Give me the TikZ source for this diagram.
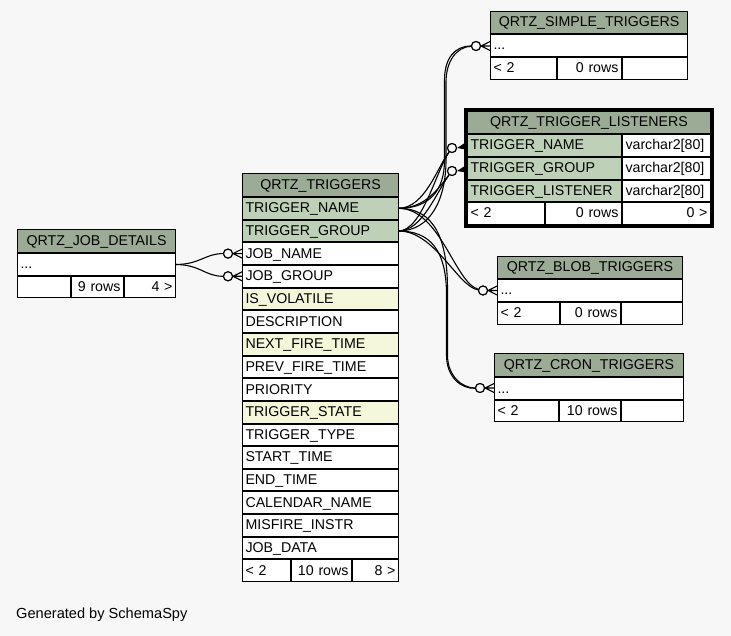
\documentclass[tikz,border=0pt]{standalone}
\usepackage{fontspec}
\setmainfont{Liberation Sans}
\usetikzlibrary{calc}
\definecolor{bgc}{HTML}{F7F7F7}
\definecolor{hdr}{HTML}{9BAB96}
\definecolor{pkc}{HTML}{BED1B8}
\definecolor{idx}{HTML}{F4F7DA}
\tikzset{
  cellbox/.style={draw=black, line width=1pt, rectangle, inner xsep=3pt, inner ysep=0pt, outer sep=0pt,
    text height=10.5pt, text depth=1.5pt, font=\fontsize{14.2}{16}\selectfont},
  hd/.style={cellbox, fill=hdr, align=center},
  pk/.style={cellbox, fill=pkc, align=left},
  ix/.style={cellbox, fill=idx, align=left},
  pl/.style={cellbox, fill=white, align=left},
  ftl/.style={cellbox, fill=white, align=left},
  ftr/.style={cellbox, fill=white, align=right},
  rel/.style={draw=black, line width=1.1pt},
  opt/.style={circle, draw=black, fill=bgc, line width=1.1pt, minimum size=9pt, inner sep=0pt},
}
\newcommand\tcell[7]{%
  \pgfmathsetmacro\cw{#4-#2-1}\pgfmathsetmacro\ch{#5-#3-1}\pgfmathsetmacro\tw{#4-#2-7}%
  \node[#6, anchor=north west, minimum width=\cw pt, minimum height=\ch pt, text width=\tw pt] (#1) at (#2+0.5,#3+0.5) {#7};}
\newcommand\crow[2]{%
  \draw[rel] (#1.east) -- ++(#2,-4.5) (#1.east) -- ++(#2,0) (#1.east) -- ++(#2,4.5);}
\begin{document}
\begin{tikzpicture}[x=1pt,y=-1pt]
\useasboundingbox[fill=bgc] (0,0) rectangle (731,636);

% ---- circles (positions) ----
\node[opt] (jnC) at (228,253.6) {};
\node[opt] (jgC) at (228,276.3) {};
\node[opt] (smC) at (476,46) {};
\node[opt] (lc1) at (452,148) {};
\node[opt] (lc2) at (452,171) {};
\node[opt] (bC) at (483,290.5) {};
\node[opt] (cC) at (480,388) {};

% ---- QRTZ_TRIGGERS ----
\tcell{th}{242}{173}{399}{197}{hd}{QRTZ\_TRIGGERS}
\foreach \t/\s [count=\i] in {TRIGGER\_NAME/pk, TRIGGER\_GROUP/pk, JOB\_NAME/pl, JOB\_GROUP/pl,
  IS\_VOLATILE/ix, DESCRIPTION/pl, NEXT\_FIRE\_TIME/ix, PREV\_FIRE\_TIME/pl, PRIORITY/pl,
  TRIGGER\_STATE/ix, TRIGGER\_TYPE/pl, START\_TIME/pl, END\_TIME/pl, CALENDAR\_NAME/pl,
  MISFIRE\_INSTR/pl, JOB\_DATA/pl}{
  \pgfmathsetmacro\ya{197+22.65*(\i-1)}\pgfmathsetmacro\yb{197+22.65*\i}
  \tcell{t\i}{242}{\ya}{399}{\yb}{\s}{\t}
}
\tcell{tf1}{242}{559.4}{291}{582}{ftl}{< 2}
\tcell{tf2}{291}{559.4}{352}{582}{ftr}{10 rows}
\tcell{tf3}{352}{559.4}{399}{582}{ftr}{8 >}

% ---- QRTZ_JOB_DETAILS ----
\tcell{jh}{17}{229}{176}{253}{hd}{QRTZ\_JOB\_DETAILS}
\tcell{jd1}{17}{253}{176}{276}{pl}{...}
\tcell{jf1}{17}{276}{71}{298}{ftl}{}
\tcell{jf2}{71}{276}{124}{298}{ftr}{9 rows}
\tcell{jf3}{124}{276}{176}{298}{ftr}{4 >}

% ---- QRTZ_SIMPLE_TRIGGERS ----
\tcell{sh}{490}{11}{688}{34}{hd}{QRTZ\_SIMPLE\_TRIGGERS}
\tcell{sm1}{490}{34}{688}{57}{pl}{...}
\tcell{sf1}{490}{57}{557}{80}{ftl}{< 2}
\tcell{sf2}{557}{57}{622}{80}{ftr}{0 rows}
\tcell{sf3}{622}{57}{688}{80}{ftr}{}

% ---- QRTZ_TRIGGER_LISTENERS ----
\tcell{lh}{467}{111}{711}{134}{hd}{QRTZ\_TRIGGER\_LISTENERS}
\tcell{l1}{467}{134}{622}{157}{pk}{TRIGGER\_NAME}
\tcell{l1t}{622}{134}{711}{157}{pl}{varchar2[80]}
\tcell{l2}{467}{157}{622}{180}{pk}{TRIGGER\_GROUP}
\tcell{l2t}{622}{157}{711}{180}{pl}{varchar2[80]}
\tcell{l3}{467}{180}{622}{202}{pk}{TRIGGER\_LISTENER}
\tcell{l3t}{622}{180}{711}{202}{pl}{varchar2[80]}
\tcell{lf1}{467}{202}{545}{225}{ftl}{< 2}
\tcell{lf2}{545}{202}{622}{225}{ftr}{0 rows}
\tcell{lf3}{622}{202}{711}{225}{ftr}{0 >}
\node[draw=black, line width=3pt, inner sep=0pt, outer sep=0pt, minimum width=247pt, minimum height=117pt,
  anchor=north west] (lsb) at (465.5,109.5) {};

% ---- QRTZ_BLOB_TRIGGERS ----
\tcell{bh}{497}{256}{683}{279}{hd}{QRTZ\_BLOB\_TRIGGERS}
\tcell{bl1}{497}{279}{683}{302}{pl}{...}
\tcell{bf1}{497}{302}{560}{325}{ftl}{< 2}
\tcell{bf2}{560}{302}{621}{325}{ftr}{0 rows}
\tcell{bf3}{621}{302}{683}{325}{ftr}{}

% ---- QRTZ_CRON_TRIGGERS ----
\tcell{ch}{494}{353}{684}{377}{hd}{QRTZ\_CRON\_TRIGGERS}
\tcell{cr1}{494}{377}{684}{400}{pl}{...}
\tcell{cf1}{494}{400}{559}{422}{ftl}{< 2}
\tcell{cf2}{559}{400}{621}{422}{ftr}{10 rows}
\tcell{cf3}{621}{400}{684}{422}{ftr}{}

% ---- connectors ----
\draw[rel] (jd1.east) .. controls (200,264.5) and (205,253.6) .. (jnC);
\draw[rel] (jd1.east) .. controls (200,264.5) and (205,276.3) .. (jgC);

\draw[rel] (t1.east) .. controls (430,208.3) and (444.5,190) .. (444.5,160) -- (444.5,80) .. controls (444.5,58) and (455,46) .. (smC);
\draw[rel] (t2.east) .. controls (430,231) and (446,200) .. (446,160) -- (446,82) .. controls (446,62) and (456,47) .. (smC);

\draw[rel] (t1.east) .. controls (425,208.3) and (438,166) .. (lc1);
\draw[rel] (t1.east) .. controls (425,208.3) and (438,189) .. (lc2);
\draw[rel] (t2.east) .. controls (422,231) and (436,171) .. (lc1);
\draw[rel] (t2.east) .. controls (422,231) and (436,193) .. (lc2);

\draw[rel] (t1.east) .. controls (440,208.3) and (455,283) .. (bC);
\draw[rel] (t2.east) .. controls (435,231) and (458,287) .. (bC);

\draw[rel] (t1.east) .. controls (435,208.3) and (447.5,240) .. (447.5,290) -- (447.5,355) .. controls (447.5,376) and (462,388) .. (cC);
\draw[rel] (t2.east) .. controls (430,231) and (446.5,250) .. (446.5,295) -- (446.5,355) .. controls (446.5,378) and (462,389) .. (cC);

% ---- circles on top, crow's feet ----
\foreach \c in {jnC,jgC,smC,lc1,lc2,bC,cC}{\node[opt] at (\c) {};}
\crow{jnC}{9}
\crow{jgC}{9}
\crow{smC}{9}
\crow{bC}{9}
\crow{cC}{9}
\fill[black] (lc1.east) -- ++(8.5,-5.5) -- ++(0,7) -- cycle;
\fill[black] (lc2.east) -- ++(8.5,-5.5) -- ++(0,7) -- cycle;

\node[anchor=west, inner sep=0pt, font=\fontsize{14.6}{16}\selectfont] (gen) at (16,615) {Generated by SchemaSpy};
\end{tikzpicture}
\end{document}
